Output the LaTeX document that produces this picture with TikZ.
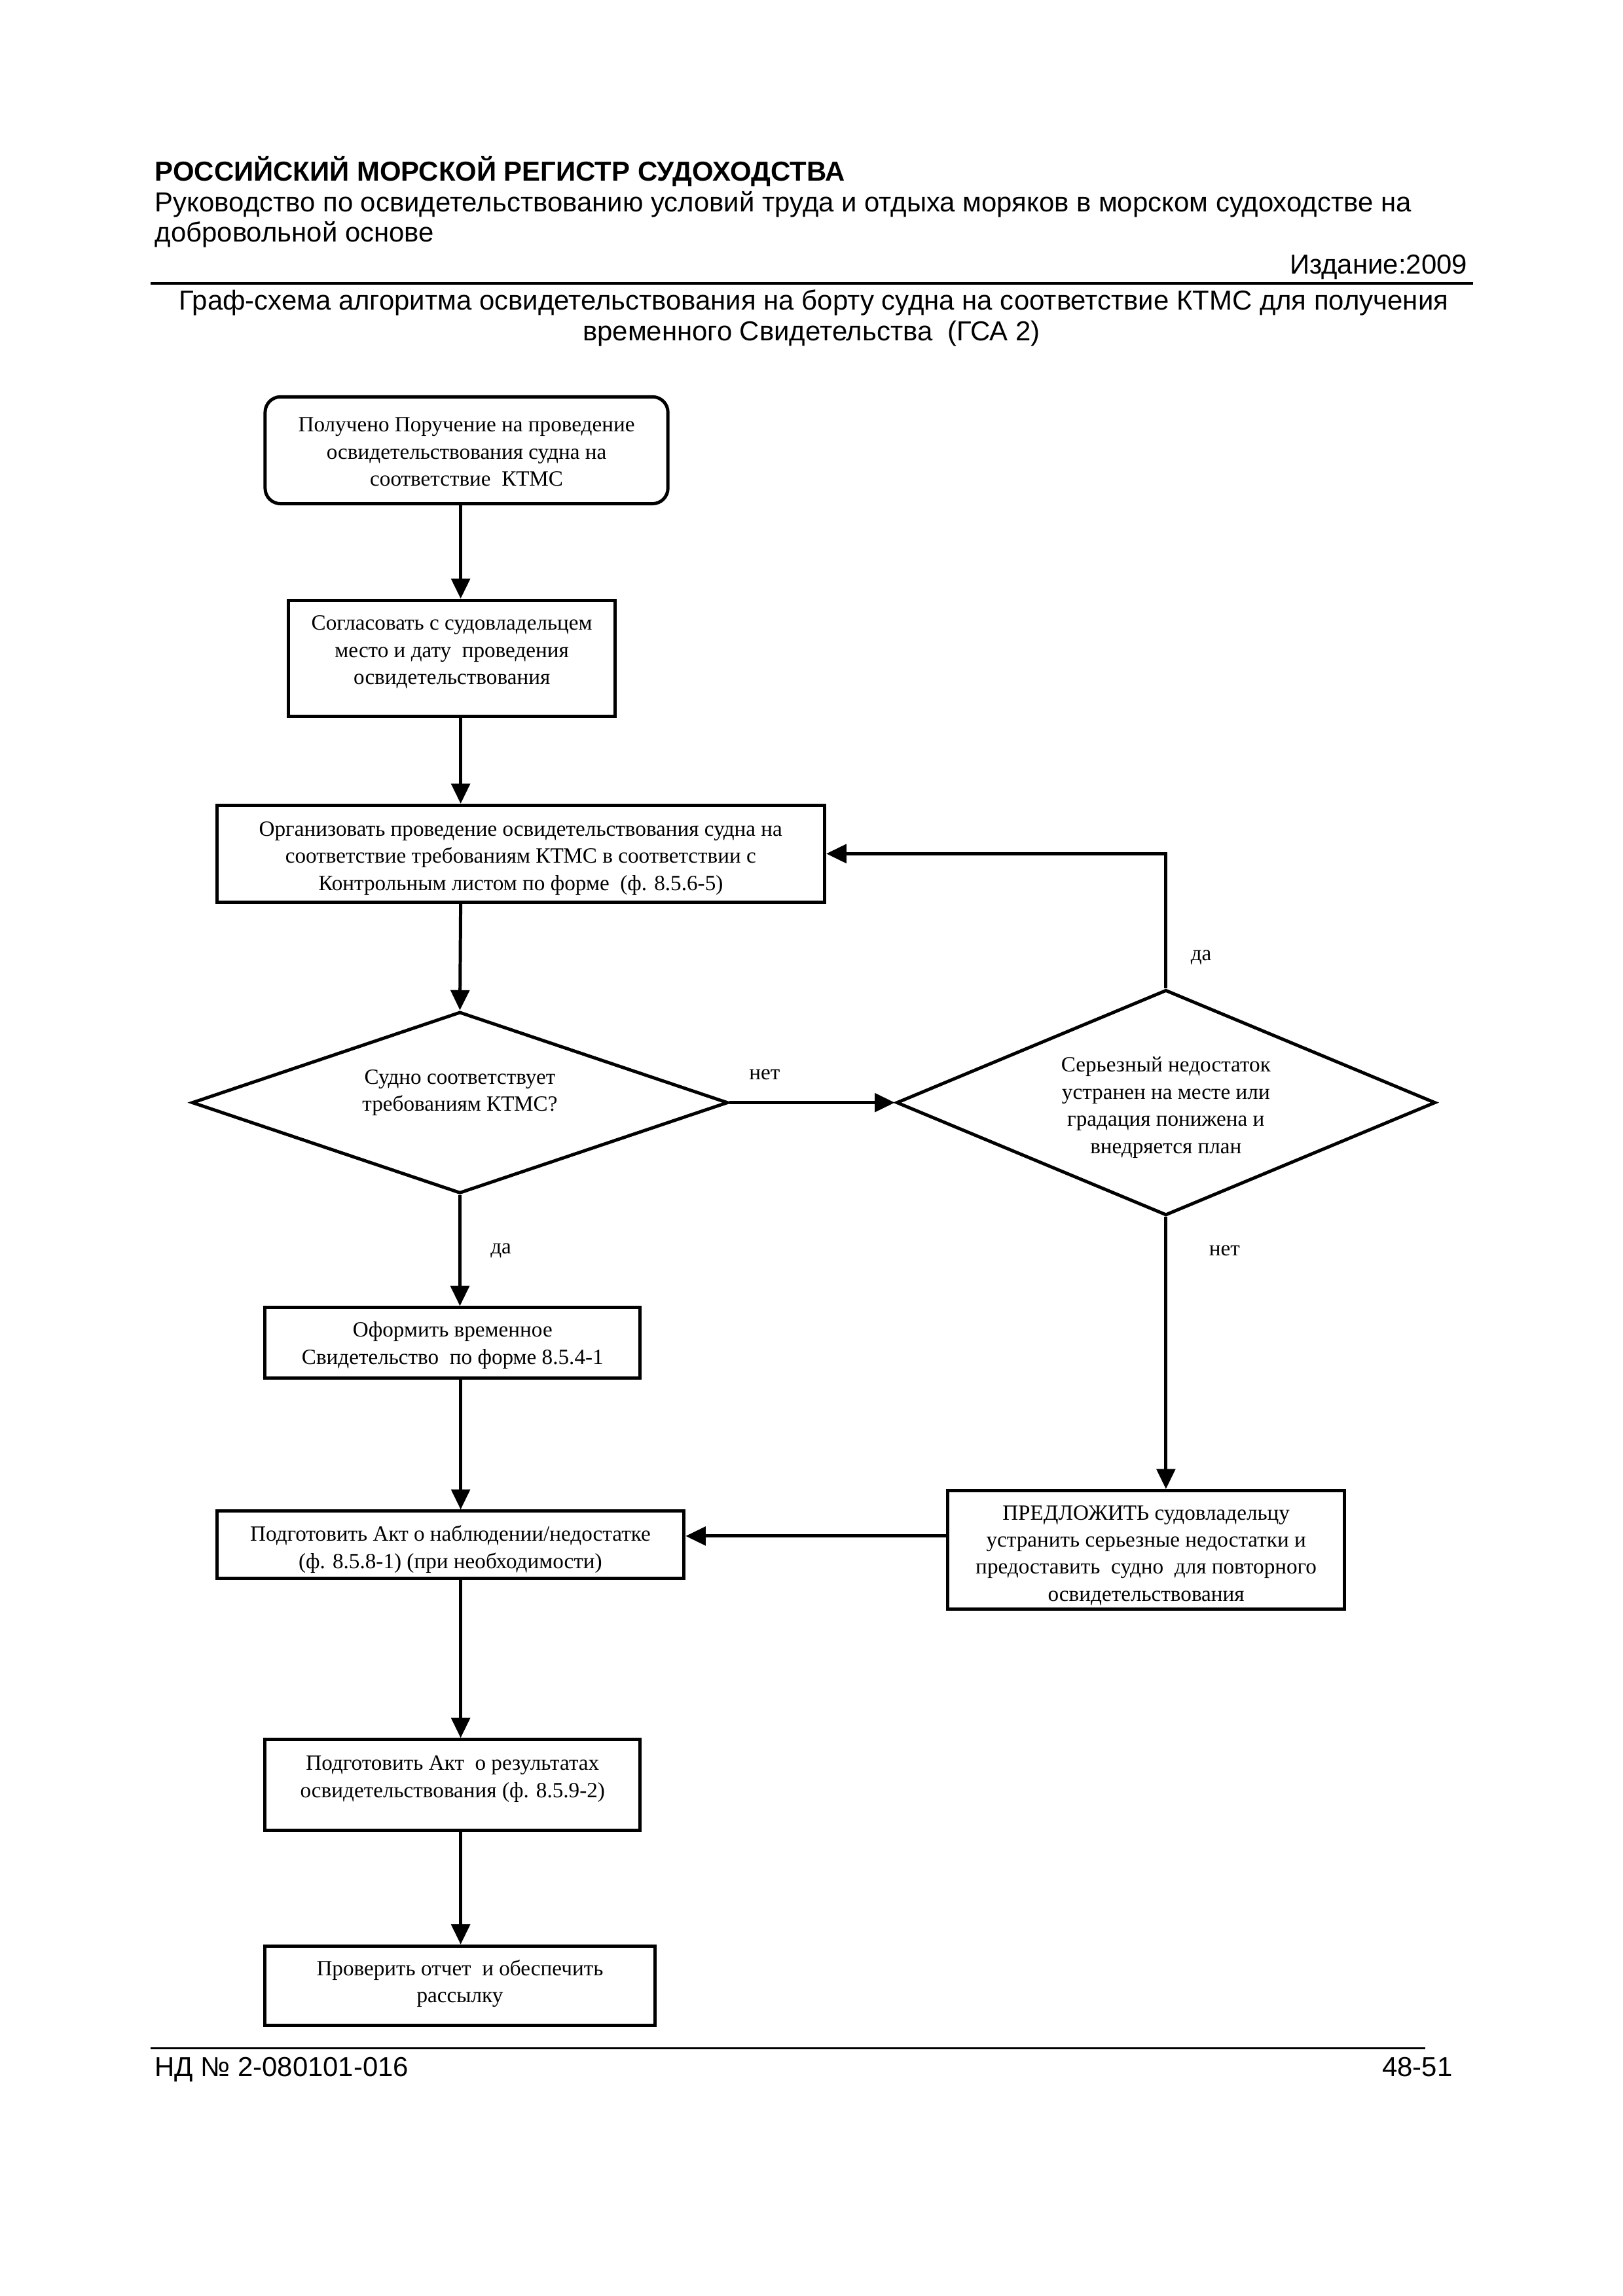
\documentclass[tikz,border=0pt]{standalone}
\usepackage{fontspec}
\setmainfont{Liberation Serif}
\newfontfamily\hdr{Liberation Sans}
\usetikzlibrary{shapes.geometric,arrows.meta,fit}
\begin{document}
\begin{tikzpicture}[x=0.18953mm,y=-0.18953mm,
 box/.style={draw,line width=1.2pt,inner sep=0pt},
 txt/.style={inner sep=0pt,align=center,anchor=north,font=\fontsize{8}{10}\selectfont},
 dia/.style={diamond,draw,line width=1.2pt,inner sep=0pt,align=center,font=\fontsize{8}{10}\selectfont},
 arr/.style={line width=1.2pt,-{Triangle[length=2.6mm,width=2.4mm]}},
 lbl/.style={font=\fontsize{8}{10}\selectfont,inner sep=0pt},
 hd/.style={font=\hdr\fontsize{10.1}{12}\selectfont,inner sep=0pt},
 hdb/.style={font=\hdr\bfseries\fontsize{10.1}{12}\selectfont,inner sep=0pt},
 rule/.style={line width=0.8pt},
]
\useasboundingbox (0,0) rectangle (1108,1568);
\fill[white] (0,0) rectangle (1108,1568);

% header
\node[hdb,anchor=base west] (h1) at (105.5,123.5) {РОССИЙСКИЙ МОРСКОЙ РЕГИСТР СУДОХОДСТВА};
\node[hd,anchor=base west] (h2) at (105.5,144.5) {Руководство по освидетельствованию условий труда и отдыха моряков в морском судоходстве на};
\node[hd,anchor=base west] (h3) at (105.5,165) {добровольной основе};
\node[hd,anchor=base east] (h4) at (1002,187) {Издание:2009};
\draw[rule] (103,193.5) -- (1005.7,193.5);
\node[hd,anchor=base] (t1) at (555.5,211.5) {Граф-схема алгоритма освидетельствования на борту судна на соответствие КТМС для получения};
\node[hd,anchor=base] (t2) at (554,232.5) {временного Свидетельства\ \ (ГСА 2)};

% footer
\draw[rule] (103,1398.8) -- (973,1398.8);
\node[hd,anchor=base west] (f1) at (105.3,1418) {НД № 2-080101-016};
\node[hd,anchor=base east] (f2) at (992,1418) {48-51};

% boxes
\node[box,rounded corners=2mm,fit={(181,271) (456,344)}] (n1) {};
\node[txt] (n1t) at ([yshift=-2.55mm]n1.north) {\rule{0pt}{6pt}Получено Поручение на проведение\\ освидетельствования судна на\\ соответствие\ \ КТМС};
\node[box,fit={(197,410) (420,489)}] (n2) {};
\node[txt] (n2t) at ([yshift=-1.9mm]n2.north) {\rule{0pt}{6pt}Согласовать с судовладельцем\\ место и дату\ \ проведения\\ освидетельствования};
\node[box,fit={(148,550) (563,616)}] (n3) {};
\node[txt] (n3t) at ([yshift=-2mm]n3.north) {\rule{0pt}{6pt}Организовать проведение освидетельствования судна на\\ соответствие требованиям КТМС в соответствии с\\ Контрольным листом по форме\ \ (ф. 8.5.6-5)};
\node[dia,aspect=2.95,minimum width=69.37mm,minimum height=23.5mm] (d1) at (314,753) {\rule{0pt}{8pt}Судно соответствует\\ требованиям КТМС?\\[1.8pt]\mbox{}};
\node[dia,aspect=2.39,minimum width=69.75mm,minimum height=29.19mm] (d2) at (796,753) {\rule{0pt}{9pt}Серьезный недостаток\\ устранен на месте или\\ градация понижена и\\ внедряется план};
\node[box,fit={(181,893) (437,941)}] (n6) {};
\node[txt] (n6t) at ([yshift=-1.85mm]n6.north) {\rule{0pt}{6pt}Оформить временное\\ Свидетельство\ \ по форме 8.5.4-1};
\node[box,fit={(148,1032) (467,1078)}] (n7) {};
\node[txt] (n7t) at ([yshift=-1.9mm]n7.north) {\rule{0pt}{6pt}Подготовить Акт о наблюдении/недостатке\\ (ф. 8.5.8-1) (при необходимости)};
\node[box,fit={(647,1018) (918,1099)}] (n8) {};
\node[txt] (n8t) at ([yshift=-1.8mm]n8.north) {\rule{0pt}{6pt}ПРЕДЛОЖИТЬ судовладельцу\\ устранить серьезные недостатки и\\ предоставить\ \ судно\ \ для повторного\\ освидетельствования};
\node[box,fit={(181,1188) (437,1250)}] (n9) {};
\node[txt] (n9t) at ([yshift=-2mm]n9.north) {\rule{0pt}{6pt}Подготовить Акт\ \ о результатах\\ освидетельствования (ф. 8.5.9-2)};
\node[box,fit={(181,1329) (447,1383)}] (n10) {};
\node[txt] (n10t) at ([yshift=-1.85mm]n10.north) {\rule{0pt}{6pt}Проверить отчет\ \ и обеспечить\\ рассылку};

% labels
\node[lbl] (l1) at (522,734) {нет};
\node[lbl] (l2) at (820,654) {да};
\node[lbl] (l3) at (836,854) {нет};
\node[lbl] (l4) at (342,854) {да};

% helper coordinates
\coordinate (c) at (314.5,0);
\coordinate (r) at (0,1049);

% connectors
\draw[arr] (n1.south -| c) -- (n2.north -| c);
\draw[arr] (n2.south -| c) -- (n3.north -| c);
\draw[arr] (n3.south -| c) -- (d1.north);
\draw[arr] (d1.east) -- (d2.west);
\draw[arr] (d2.north) |- (n3.east);
\draw[arr] (d2.south) -- (n8.north -| d2.south);
\draw[arr] (d1.south) -- (n6.north -| d1.south);
\draw[arr] (n6.south -| c) -- (n7.north -| c);
\draw[arr] (n8.west |- r) -- (n7.east |- r);
\draw[arr] (n7.south -| c) -- (n9.north -| c);
\draw[arr] (n9.south -| c) -- (n10.north -| c);
\end{tikzpicture}
\end{document}
